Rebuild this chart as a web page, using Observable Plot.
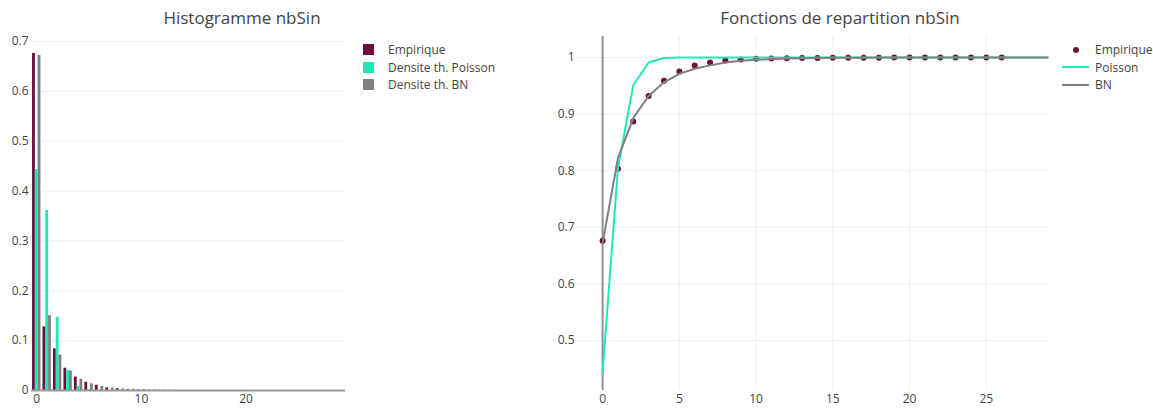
<!DOCTYPE html>
<html>
<head>
<meta charset="utf-8">
<script src="https://cdn.jsdelivr.net/npm/d3@7"></script>
<script src="https://cdn.jsdelivr.net/npm/@observablehq/plot@0.6"></script>
<style>
  html, body { margin: 0; padding: 0; background: #fff; }
  #root { position: relative; width: 1153px; height: 408px; font-family: "Open Sans", sans-serif; color: #444; overflow: hidden; }
  .title { position: absolute; top: 6px; font-size: 17px; color: #444; text-align: center; white-space: nowrap; }
  .leg { position: absolute; font-size: 12px; color: #444; }
  .leg .row { position: absolute; left: 0; height: 17px; white-space: nowrap; }
  .leg .row span.t { position: absolute; top: 0; line-height: 17px; }
  .chart { position: absolute; top: 0; }
</style>
</head>
<body>
<div id="root"></div>
<script>
// ---------- data ----------
const categories = d3.range(30); // nbSin values 0..29

const histSeries = ["Empirique", "Densite th. Poisson", "Densite th. BN"];
const cdfSeries = ["Empirique", "Poisson", "BN"];
const seriesColors = ["#6d0e3d", "#1de9b6", "#808080"];

const empiriquePmf = [0.676, 0.1275, 0.0835, 0.0447, 0.0271, 0.0165, 0.0106, 0.0052, 0.0036, 0.0018,
  0.0011, 0.0006, 0.0004, 0.0003, 0.0002, 0.0002, 0.0001, 0.0001, 0.0001, 0.0001,
  0.0001, 0.00005, 0.00005, 0.00005, 0.00005, 0.00005, 0.00005, 0, 0, 0];
const poissonPmf = [0.443, 0.361, 0.147, 0.040, 0.008, 0.0013, 0.0002, 0, 0, 0,
  0, 0, 0, 0, 0, 0, 0, 0, 0, 0, 0, 0, 0, 0, 0, 0, 0, 0, 0, 0];
const bnPmf = [0.672, 0.150, 0.071, 0.039, 0.0227, 0.0134, 0.008, 0.005, 0.0033, 0.0025,
  0.0018, 0.0012, 0.0008, 0.0006, 0.0004, 0.0003, 0.0002, 0.0001, 0.0001, 0.0001,
  0.00005, 0.00005, 0.00005, 0.00003, 0.00003, 0.00002, 0.00002, 0.00001, 0.00001, 0.00001];

const empiriqueCdf = [0.676, 0.8035, 0.887, 0.9317, 0.9588, 0.9753, 0.9859, 0.9911, 0.9947, 0.9965,
  0.9976, 0.9982, 0.9986, 0.9989, 0.9991, 0.9993, 0.9994, 0.9995, 0.9996, 0.9997,
  0.9998, 0.99985, 0.9999, 0.99993, 0.99996, 0.99998, 1];
const poissonCdf = [0.443, 0.804, 0.951, 0.991, 0.999, 1, 1, 1, 1, 1,
  1, 1, 1, 1, 1, 1, 1, 1, 1, 1, 1, 1, 1, 1, 1, 1, 1, 1, 1, 1];
const bnCdf = [0.672, 0.822, 0.893, 0.932, 0.956, 0.971, 0.980, 0.986, 0.991, 0.994,
  0.996, 0.997, 0.998, 0.9985, 0.999, 0.9993, 0.9995, 0.9996, 0.9997, 0.9998,
  0.9998, 0.9999, 0.9999, 0.9999, 1, 1, 1, 1, 1, 1];

const histXTicks = [0, 10, 20];
const histYTicks = [0, 0.1, 0.2, 0.3, 0.4, 0.5, 0.6, 0.7];
const cdfXTicks = [0, 5, 10, 15, 20, 25];
const cdfYTicks = [0.5, 0.6, 0.7, 0.8, 0.9, 1];

const titles = ["Histogramme nbSin", "Fonctions de repartition nbSin"];

// ---------- build tables ----------
const histRows = [];
[empiriquePmf, poissonPmf, bnPmf].forEach((vals, s) =>
  vals.forEach((v, i) => histRows.push({k: categories[i], v, s})));
const cdfRow = (vals, s) => vals.map((v, i) => ({k: categories[i], v, s}));
const empRows = cdfRow(empiriqueCdf, 0);
const poiRows = cdfRow(poissonCdf, 1);
const bnRows = cdfRow(bnCdf, 2);

const root = document.getElementById("root");
const baseStyle = {fontFamily: "'Open Sans', sans-serif", fontSize: "12px", color: "#444", background: "transparent", overflow: "visible"};
const fmt = d3.format("~g");

// ---------- left: histogram ----------
const groupW = 0.8, barW = groupW / 3;
const left = Plot.plot({
  width: 350, height: 408,
  marginLeft: 31, marginRight: 5, marginTop: 36, marginBottom: 18,
  style: baseStyle,
  x: {domain: [-0.5, 29.5]},
  y: {domain: [0, 0.71]},
  color: {domain: [0, 1, 2], range: seriesColors},
  marks: [
    Plot.gridY(histYTicks.filter(t => t > 0), {stroke: "#eee", strokeOpacity: 1, strokeWidth: 1}),
    Plot.rect(histRows, {
      x1: d => d.k - groupW / 2 + d.s * barW,
      x2: d => d.k - groupW / 2 + (d.s + 1) * barW,
      y1: () => 0, y2: "v", fill: "s"
    }),
    Plot.ruleY([0], {stroke: "#9a9a9a", strokeWidth: 2}),
    Plot.axisX({ticks: histXTicks, tickSize: 0, tickPadding: 4, label: null, tickFormat: fmt}),
    Plot.axisY({ticks: histYTicks, tickSize: 0, tickPadding: 3, label: null, tickFormat: fmt})
  ]
});
left.classList.add("chart");
left.style.left = "0px";
left.style.position = "absolute";
root.appendChild(left);

// ---------- right: CDF ----------
const right = Plot.plot({
  width: 520, height: 408,
  marginLeft: 36, marginRight: 12, marginTop: 36, marginBottom: 18,
  style: baseStyle,
  x: {domain: [-1.7, 29.05]},
  y: {domain: [0.4117, 1.037]},
  marks: [
    Plot.gridX(cdfXTicks.filter(t => t > 0), {stroke: "#eee", strokeOpacity: 1, strokeWidth: 1}),
    Plot.gridY(cdfYTicks, {stroke: "#eee", strokeOpacity: 1, strokeWidth: 1}),
    Plot.ruleX([0], {stroke: "#8f8f8f", strokeWidth: 2}),
    Plot.dot(empRows, {x: "k", y: "v", r: 3, fill: seriesColors[0], stroke: "none"}),
    Plot.line(poiRows, {x: "k", y: "v", stroke: seriesColors[1], strokeWidth: 2}),
    Plot.line(bnRows, {x: "k", y: "v", stroke: seriesColors[2], strokeWidth: 2}),
    Plot.axisX({ticks: cdfXTicks, tickSize: 0, tickPadding: 4, label: null, tickFormat: fmt}),
    Plot.axisY({ticks: cdfYTicks, tickSize: 0, tickPadding: 2, label: null, tickFormat: fmt})
  ]
});
right.classList.add("chart");
right.style.left = "540px";
right.style.position = "absolute";
root.appendChild(right);

// ---------- titles ----------
function addTitle(text, cx) {
  const t = document.createElement("div");
  t.className = "title";
  t.textContent = text;
  t.style.left = (cx - 200) + "px";
  t.style.width = "400px";
  root.appendChild(t);
}
addTitle(titles[0], 242);
addTitle(titles[1], 840);

// ---------- legends ----------
function addLegend(x, y, items, swatchFn, textX) {
  const lg = document.createElement("div");
  lg.className = "leg";
  lg.style.left = x + "px";
  lg.style.top = y + "px";
  items.forEach((name, i) => {
    const row = document.createElement("div");
    row.className = "row";
    row.style.top = (i * 17.5) + "px";
    row.appendChild(swatchFn(i));
    const t = document.createElement("span");
    t.className = "t";
    t.style.left = textX + "px";
    t.textContent = name;
    row.appendChild(t);
    lg.appendChild(row);
  });
  root.appendChild(lg);
}
addLegend(363, 41, histSeries, i => {
  const s = document.createElement("span");
  s.style.cssText = `position:absolute;left:0;top:3px;width:11px;height:11px;background:${seriesColors[i]};`;
  return s;
}, 25);
addLegend(1062, 41, cdfSeries, i => {
  const s = document.createElement("span");
  if (i === 0) {
    s.style.cssText = `position:absolute;left:11px;top:5.5px;width:6px;height:6px;border-radius:50%;background:${seriesColors[0]};`;
  } else {
    s.style.cssText = `position:absolute;left:0;top:7.5px;width:27px;height:2px;background:${seriesColors[i]};`;
  }
  return s;
}, 33);
</script>
</body>
</html>
